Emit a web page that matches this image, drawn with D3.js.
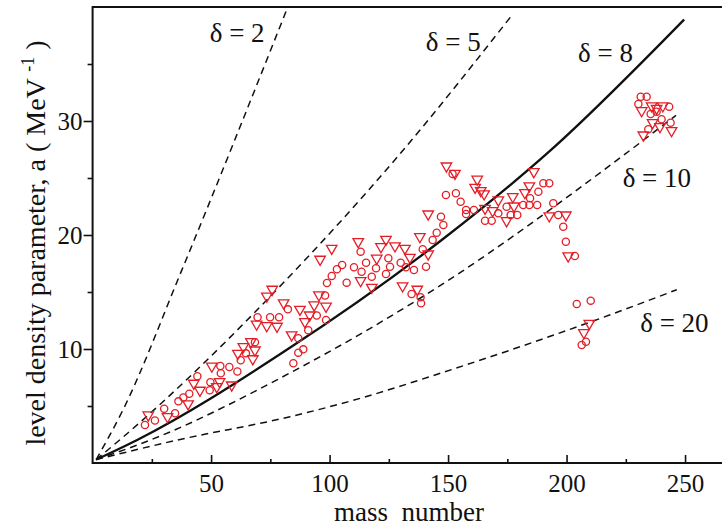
<!DOCTYPE html>
<html>
<head>
<meta charset="utf-8">
<script src="https://cdn.jsdelivr.net/npm/d3@7"></script>
<style>
  html, body { margin: 0; padding: 0; background: #fff; }
  svg { display: block; }
  text { font-family: "Liberation Serif", "DejaVu Serif", serif; fill: #111; }
</style>
</head>
<body>
<svg id="chart" width="722" height="526"></svg>
<script>
// Level density parameter a versus mass number A.
// Reference curves for several values of delta: [A, a] pairs.
const curveD2  = [[1.5,0.3],[12.8,4.65],[37.6,16.9],[81.6,39.6]];
const curveD5  = [[1.5,0.3],[13,2.3],[80,15.7],[127.6,26.6],[177.4,39.4]];
const curveD8  = [[1.5,0.3],[18.6,2.0],[81,9.8],[148.8,19.8],[193.1,27.4],[249.6,38.9]];
const curveD10 = [[1.5,0.3],[24.2,2.0],[83.3,7.9],[148.8,15.85],[218.3,26.1],[246.2,30.5]];
const curveD20 = [[1.5,0.3],[35.5,2.0],[83.3,4.06],[112.9,5.67],[146.7,7.87],[218.4,13.0],[246.5,15.2]];

// Curve labels: text and the [A, a] position of the label.
const curveLabels = [
  ["\u03B4 = 2", 61.0, 36.9],
  ["\u03B4 = 5", 152.2, 36.1],
  ["\u03B4 = 8", 216.4, 35.2],
  ["\u03B4 = 10", 238.1, 24.2],
  ["\u03B4 = 20", 245.5, 11.5]
];

// Empirical values, set 1 (circles): [A, a]
const circleA = [22.1,26.3,30.2,34.8,36.2,38.3,40.8,44.2,49.4,49.7,53.9,54.1,57.7,61.1,62.5,64.7,68.5,69.6,74.9,78.7,
  82.4,84.7,86.8,86.8,88.9,91.0,94.6,98.1,98.5,98.9,100.9,103.1,105.3,107.2,110.3,113.1,113.5,115.4,117.8,119.6,
  124.8,125.5,123.8,130.0,132.2,135.6,134.6,138.4,138.6,139.3,140.7,143.5,145.2,147.0,148.0,149.1,153.3,151.9,155.3,157.6,
  157.6,160.9,165.6,168.4,171.2,174.7,176.4,179.2,181.7,184.6,184.3,187.6,188.1,190.2,192.7,194.4,196.5,198.6,199.7,203.5,
  204.3,210.2,208.2,206.4,231.3,233.8,230.3,243.3,235.5,238.0,240.1,243.9,234.5];
const circleVal = [3.33,3.73,4.76,4.37,5.41,5.74,6.08,7.61,6.38,7.09,8.51,7.87,8.42,8.03,9.01,9.62,10.6,12.78,12.78,12.78,
  13.48,8.75,10.94,9.68,9.97,11.64,12.94,14.69,12.54,15.79,16.40,16.99,17.37,15.82,17.17,18.54,16.78,17.57,16.34,17.08,
  17.96,17.22,16.58,17.57,17.17,16.93,14.82,14.54,14.01,18.75,17.22,19.56,20.20,21.61,20.88,23.51,23.66,25.35,22.92,22.19,
  21.84,22.19,21.25,21.25,21.90,22.48,21.75,21.75,22.63,23.22,22.63,22.63,23.80,24.54,24.54,22.78,21.75,20.73,19.41,18.16,
  13.95,14.24,10.64,10.35,32.13,32.13,31.49,31.25,30.61,30.82,30.15,29.85,29.27];

// Empirical values, set 2 (inverted triangles): [A, a]
const triangleA = [23.5,31.6,40.3,42.7,45.3,50.3,52.4,53.6,58.7,61.3,63.6,66.8,68.5,67.6,69.2,73.5,75.8,73.5,77.8,80.6,
  84.0,87.5,89.6,91.6,93.5,95.5,98.5,96.0,100.9,112.1,113.1,117.8,119.9,121.7,123.8,127.6,131.8,133.9,130.8,137.0,
  138.1,141.6,141.6,149.3,152.9,162.3,161.4,163.8,165.2,165.6,168.8,171.2,174.7,177.3,177.8,182.4,184.3,186.2,192.7,199.7,
  200.7,209.6,207.3,231.7,235.9,238.0,240.6,236.3,239.4,244.3,232.4];
const triangleVal = [4.21,4.06,5.19,6.99,6.38,8.49,6.69,7.13,6.84,9.62,10.20,10.64,9.91,9.14,12.18,14.63,15.24,12.04,11.99,14.04,
  11.23,13.48,12.39,12.98,13.86,14.74,13.75,17.87,18.83,19.41,15.99,15.41,17.96,18.97,19.62,19.04,18.83,18.04,15.53,15.24,
  19.85,18.33,21.84,26.05,25.41,24.89,24.18,23.89,23.60,22.34,22.13,23.07,21.25,23.36,22.54,23.71,24.30,25.55,21.67,21.75,
  18.16,12.25,11.43,30.90,31.32,31.11,31.32,29.85,29.50,29.15,28.77];

// Axis ticks
const xMajorTicks = [50, 100, 150, 200, 250];
const xMinorTicks = [25, 75, 125, 175, 225];
const yMajorTicks = [10, 20, 30];
const yMinorTicks = [5, 15, 25, 35];

const xTitle = "mass\u00A0 number";
const yTitle = "level density parameter, a ( MeV ";
const yTitleSup = "-1";

const svg = d3.select("#chart");
const plotLeft = 92.6, plotRight = 720.6, plotTop = 7, plotBottom = 463;

const x = d3.scaleLinear().domain([0, 265]).range([plotLeft, plotRight]);
const y = d3.scaleLinear().domain([0, 40]).range([plotBottom, plotTop]);

const red = "#e41e26";

// clip so curves stay inside the frame
svg.append("defs").append("clipPath").attr("id", "plotclip")
  .append("rect").attr("x", plotLeft).attr("y", plotTop)
  .attr("width", 722 - plotLeft).attr("height", plotBottom - plotTop);

// Axes
const xMajor = svg.append("g").attr("transform", `translate(0,${plotBottom})`)
  .call(d3.axisBottom(x).tickValues(xMajorTicks).tickSizeInner(-8).tickSizeOuter(0).tickPadding(11).tickFormat(d3.format("d")));
const xMinor = svg.append("g").attr("transform", `translate(0,${plotBottom})`)
  .call(d3.axisBottom(x).tickValues(xMinorTicks).tickSizeInner(-4).tickSizeOuter(0).tickFormat(""));
const yMajor = svg.append("g").attr("transform", `translate(${plotLeft},0)`)
  .call(d3.axisLeft(y).tickValues(yMajorTicks).tickSizeInner(9).tickSizeOuter(0).tickPadding(1).tickFormat(d3.format("d")));
const yMinor = svg.append("g").attr("transform", `translate(${plotLeft},0)`)
  .call(d3.axisLeft(y).tickValues(yMinorTicks).tickSizeInner(5).tickSizeOuter(0).tickFormat(""));

[xMajor, xMinor, yMajor, yMinor].forEach(g => {
  g.select(".domain").remove();
  g.selectAll(".tick line").attr("stroke", "#111").attr("stroke-width", 1.6);
  g.selectAll(".tick text").style("font-family", '"Liberation Serif", serif').style("font-size", "25px").attr("fill", "#111");
});

// Frame lines: left, bottom, top
svg.append("line").attr("x1", plotLeft).attr("x2", plotLeft).attr("y1", plotTop - 1).attr("y2", plotBottom + 1)
  .attr("stroke", "#111").attr("stroke-width", 2);
svg.append("line").attr("x1", plotLeft).attr("x2", 722).attr("y1", plotBottom).attr("y2", plotBottom)
  .attr("stroke", "#111").attr("stroke-width", 2);
svg.append("line").attr("x1", plotLeft).attr("x2", 722).attr("y1", plotTop).attr("y2", plotTop)
  .attr("stroke", "#111").attr("stroke-width", 2);

// Curves
const line = d3.line().x(d => x(d[0])).y(d => y(d[1])).curve(d3.curveMonotoneX);
const plot = svg.append("g").attr("clip-path", "url(#plotclip)");
[curveD2, curveD5, curveD10, curveD20].forEach(c => {
  plot.append("path").datum(c).attr("d", line).attr("fill", "none")
    .attr("stroke", "#111").attr("stroke-width", 1.5).attr("stroke-dasharray", "7,5");
});
plot.append("path").datum(curveD8).attr("d", line).attr("fill", "none")
  .attr("stroke", "#111").attr("stroke-width", 2.3);

// Data points
const circles = circleA.map((a, i) => [a, circleVal[i]]);
const triangles = triangleA.map((a, i) => [a, triangleVal[i]]);

svg.append("g").selectAll("circle").data(circles).join("circle")
  .attr("cx", d => x(d[0])).attr("cy", d => y(d[1])).attr("r", 3.6)
  .attr("fill", "none").attr("stroke", red).attr("stroke-width", 1.3);

const tri = d3.symbol().type(d3.symbolTriangle).size(48);
svg.append("g").selectAll("path").data(triangles).join("path")
  .attr("d", tri)
  .attr("transform", d => `translate(${x(d[0])},${y(d[1])}) rotate(180)`)
  .attr("fill", "none").attr("stroke", red).attr("stroke-width", 1.3);

// Curve labels
svg.append("g").selectAll("text").data(curveLabels).join("text")
  .attr("x", d => x(d[1])).attr("y", d => y(d[2]))
  .attr("text-anchor", "middle").style("font-size", "27px")
  .text(d => d[0]);

// Axis titles
svg.append("text").attr("x", 409).attr("y", 521).attr("text-anchor", "middle")
  .style("font-size", "27px").text(xTitle);

const yt = svg.append("text").attr("transform", "translate(45,243) rotate(-90)")
  .attr("text-anchor", "middle").style("font-size", "28px");
yt.append("tspan").text(yTitle);
yt.append("tspan").attr("dy", -11).style("font-size", "18px").text(yTitleSup);
yt.append("tspan").attr("dy", 11).text("\u00A0)");
</script>
</body>
</html>
